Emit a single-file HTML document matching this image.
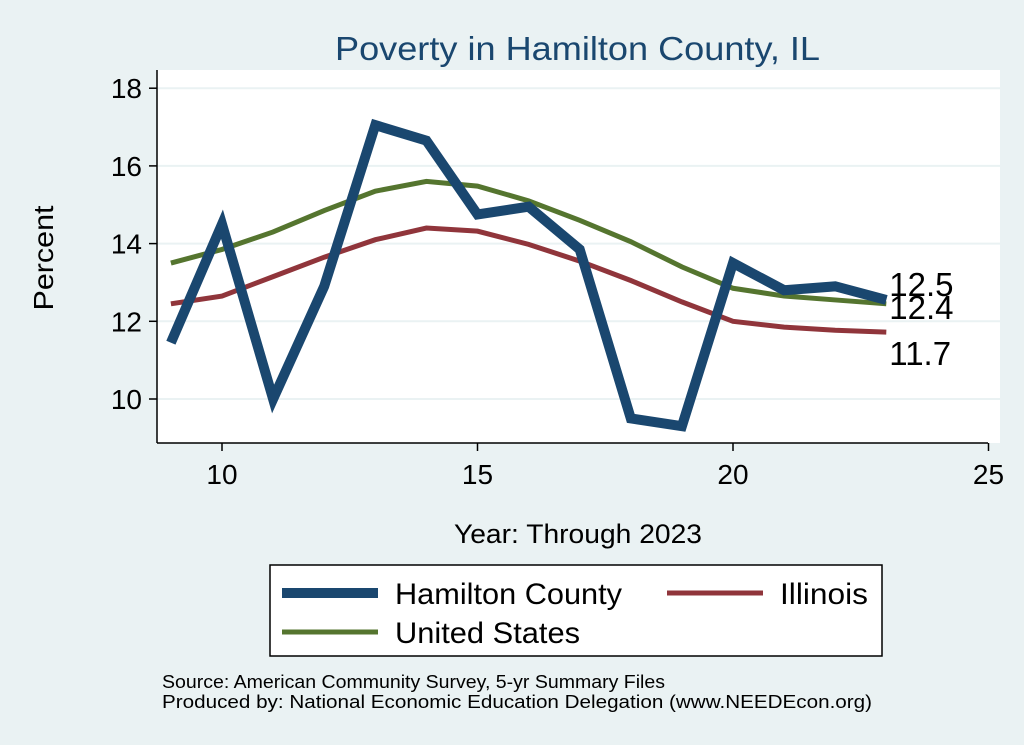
<!DOCTYPE html>
<html><head><meta charset="utf-8"><style>
body{margin:0;background:#eaf2f3;}
svg{display:block;font-family:"Liberation Sans",Arial,sans-serif;}
</style></head><body>
<svg id="c" width="1024" height="745">
<rect x="0" y="0" width="1024" height="745" fill="#eaf2f3"/>
<rect x="157" y="70" width="843" height="373" fill="#ffffff"/>
<text x="335" y="60" font-size="33" textLength="485" lengthAdjust="spacingAndGlyphs" fill="#1a476f">Poverty in Hamilton County, IL</text>
<g id="grid"></g><g id="axes"></g><g id="lines"></g>
<text x="53" y="258" font-size="28" text-anchor="middle" transform="rotate(-90 53 258)" textLength="105" lengthAdjust="spacingAndGlyphs">Percent</text>
<text x="454" y="543" font-size="27" textLength="248" lengthAdjust="spacingAndGlyphs">Year: Through 2023</text>
<g>
<rect x="270" y="565" width="612" height="91" fill="#fff" stroke="#000" stroke-width="1.5"/>
<line x1="282" y1="593" x2="378" y2="593" stroke="#1a476f" stroke-width="10"/>
<text x="395" y="604" font-size="30" textLength="227" lengthAdjust="spacingAndGlyphs">Hamilton County</text>
<line x1="667" y1="593" x2="763" y2="593" stroke="#90353b" stroke-width="5"/>
<text x="780" y="604" font-size="30" textLength="88" lengthAdjust="spacingAndGlyphs">Illinois</text>
<line x1="282" y1="632" x2="378" y2="632" stroke="#55752f" stroke-width="5"/>
<text x="395" y="643" font-size="30" textLength="185" lengthAdjust="spacingAndGlyphs">United States</text>
</g>
<text x="162" y="688" font-size="18" textLength="503" lengthAdjust="spacingAndGlyphs">Source: American Community Survey, 5-yr Summary Files</text>
<text x="162" y="708" font-size="18" textLength="710" lengthAdjust="spacingAndGlyphs">Produced by: National Economic Education Delegation (www.NEEDEcon.org)</text>
</svg>
<script>
const years=[9,10,11,12,13,14,15,16,17,18,19,20,21,22,23];
const hamilton=[11.45,14.5,10.0,12.9,17.05,16.65,14.75,14.95,13.85,9.5,9.3,13.5,12.8,12.9,12.55];
const illinois=[12.45,12.65,13.15,13.65,14.1,14.4,14.32,13.98,13.55,13.05,12.5,12.0,11.85,11.77,11.72];
const unitedStates=[13.5,13.85,14.3,14.85,15.35,15.6,15.48,15.1,14.6,14.05,13.4,12.85,12.65,12.55,12.45];
const xTicks=[10,15,20,25];
const yTicks=[10,12,14,16,18];
const endLabels=["12.5","12.4","11.7"];
const NS="http://www.w3.org/2000/svg";
const X=v=>222+(v-10)*51.1;
const Y=v=>399-(v-10)*38.85;
function mk(t,a,p){const e=document.createElementNS(NS,t);for(const k in a)e.setAttribute(k,a[k]);p.appendChild(e);return e;}
const grid=document.getElementById('grid'),axes=document.getElementById('axes'),lines=document.getElementById('lines');
yTicks.forEach(t=>{
 const g=mk('line',{x1:157,x2:1000,y1:Y(t),y2:Y(t),stroke:'#eaf2f3','stroke-width':2},grid);
 
 
 mk('line',{x1:149,x2:157,y1:Y(t),y2:Y(t),stroke:'#000','stroke-width':1.5},axes);
 const l=mk('text',{x:142,y:Y(t)+10,'text-anchor':'end','font-size':28},axes);l.textContent=t;
 
 
});
xTicks.forEach(t=>{
 mk('line',{x1:X(t),x2:X(t),y1:443,y2:451,stroke:'#000','stroke-width':1.5},axes);
 const l=mk('text',{x:X(t),y:484,'text-anchor':'middle','font-size':28},axes);l.textContent=t;
 
 
});
mk('line',{x1:157,x2:157,y1:70,y2:443,stroke:'#000','stroke-width':1.5},axes);
mk('line',{x1:157,x2:988,y1:443,y2:443,stroke:'#000','stroke-width':1.5},axes);
function series(vals,col,w,name){
 const p=mk('polyline',{points:years.map((y,i)=>X(y)+','+Y(vals[i])).join(' '),fill:'none',stroke:col,'stroke-width':w,'stroke-linejoin':'miter'},lines);
 
 
}
series(illinois,'#90353b',5,'line-illinois');
series(unitedStates,'#55752f',5,'line-united-states');
series(hamilton,'#1a476f',10,'line-hamilton-county');
const last=years.length-1;
[[hamilton,-13],[unitedStates,6],[illinois,24]].forEach((s,i)=>{
 const t=mk('text',{x:X(years[last])+3,y:Y(s[0][last])+s[1]+9,'font-size':33},lines);
 t.textContent=endLabels[i];
 
 
});
</script>
</body></html>
